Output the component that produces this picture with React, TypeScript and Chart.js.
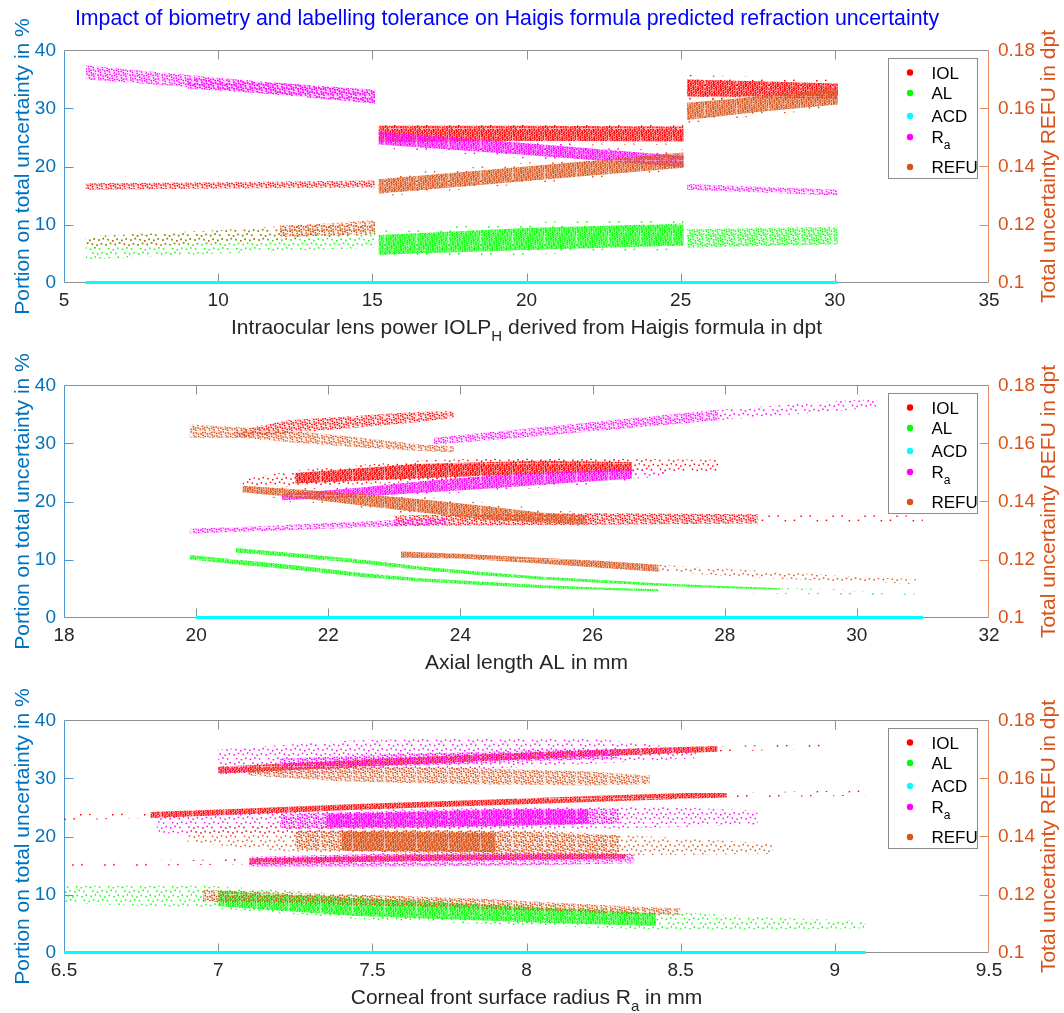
import React, { useEffect, useRef } from 'react';
import { Chart, registerables } from 'chart.js';

Chart.register(...registerables);

const FONT = "'Liberation Sans', Arial, Helvetica, sans-serif";

// ---------- texts ----------
const MAIN_TITLE = 'Impact of biometry and labelling tolerance on Haigis formula predicted refraction uncertainty';
const Y_LEFT_TITLE = 'Portion on total uncertainty in %';
const Y_RIGHT_TITLE = 'Total uncertainty REFU in dpt';
const X_TITLES = [
  'Intraocular lens power IOLP_H derived from Haigis formula in dpt',
  'Axial length AL in mm',
  'Corneal front surface radius R_a in mm',
];
const SERIES_LABELS = ['IOL', 'AL', 'ACD', 'R_a', 'REFU'];
const SERIES_COLORS = ['#ff0000', '#00ff00', '#00ffff', '#ff00ff', '#d95319'];

// ---------- tick labels ----------
const X1_TICKS = [5, 10, 15, 20, 25, 30, 35];
const X2_TICKS = [18, 20, 22, 24, 26, 28, 30, 32];
const X3_TICKS = [6.5, 7, 7.5, 8, 8.5, 9, 9.5];
const YL_TICKS = [0, 10, 20, 30, 40];
const YR_TICKS = [0.1, 0.12, 0.14, 0.16, 0.18];

// ---------- panel 1 : point clouds as [x, low, high] ----------
const P1_IOL_A = [[5.7, 16.0, 17.1], [10, 16.2, 17.3], [15.1, 16.4, 17.6]];
const P1_IOL_B = [[15.2, 24.2, 27.0], [20, 24.4, 27.0], [25.1, 24.3, 26.9]];
const P1_IOL_B_H = [[15.2, 23.6, 27.6], [20, 23.8, 27.6], [25.1, 23.8, 27.4]];
const P1_IOL_C = [[25.2, 32.0, 35.0], [27.5, 31.9, 34.7], [30.1, 31.7, 34.3]];
const P1_IOL_C_H = [[25.2, 31.4, 35.8], [30.1, 31.2, 35.0]];
const P1_AL_A = [[5.7, 4.0, 7.8], [10, 5.0, 9.0], [15.1, 6.0, 10.0]];
const P1_AL_B = [[15.2, 4.8, 8.2], [20, 5.6, 9.4], [25.1, 6.4, 10.2]];
const P1_AL_B_H = [[15.2, 4.2, 9.0], [20, 4.8, 10.4], [25.1, 5.6, 11.0]];
const P1_AL_C = [[25.2, 6.0, 9.2], [30.1, 6.6, 9.6]];
const P1_RA_A = [[5.7, 35.0, 37.4], [10, 33.3, 35.3], [15.1, 30.8, 33.0]];
const P1_RA_A2 = [[9, 33.4, 35.2], [12, 32.4, 34.4], [15.1, 30.9, 33.2]];
const P1_RA_B = [[15.2, 23.8, 26.0], [20, 22.0, 24.0], [25.1, 19.9, 21.8]];
const P1_RA_B_H = [[15.2, 23.2, 26.6], [25.1, 19.4, 22.4]];
const P1_RA_C = [[25.2, 16.0, 17.0], [30.1, 15.0, 16.0]];
const P1_REFU_A = [[5.7, 0.1118, 0.116], [10, 0.1136, 0.118], [15.1, 0.1166, 0.1216]];
const P1_REFU_A2 = [[12, 0.1156, 0.1196], [15.1, 0.1168, 0.1212]];
const P1_REFU_B = [[15.2, 0.1306, 0.1356], [20, 0.135, 0.14], [25.1, 0.1396, 0.1448]];
const P1_REFU_B_H = [[15.2, 0.1296, 0.137], [25.1, 0.1386, 0.146]];
const P1_REFU_C = [[25.2, 0.156, 0.162], [27.5, 0.1588, 0.164], [30.1, 0.1614, 0.1668]];
const P1_REFU_C_H = [[25.2, 0.1548, 0.1632], [30.1, 0.1602, 0.1682]];
const ACD1 = [5.7, 30.1];

// ---------- panel 2 ----------
const P2_IOL_A = [[20.6, 31.0, 32.2], [21.4, 31.8, 34.0], [22.5, 32.8, 34.8], [23.3, 33.6, 35.4], [23.9, 34.4, 35.6]];
const P2_IOL_B = [[20.7, 22.6, 23.8], [21.5, 22.6, 25.4], [23.4, 23.4, 27.1], [25.2, 24.2, 27.6], [26.6, 24.8, 27.3], [27.9, 25.2, 27.2]];
const P2_IOL_B2 = [[21.5, 23.1, 24.9], [23.4, 24.0, 26.5], [25.2, 24.8, 27.0], [26.6, 25.2, 26.8]];
const P2_IOL_C = [[23.0, 15.8, 17.6], [26, 16.0, 18.0], [28.5, 16.2, 17.8]];
const P2_IOL_C2 = [[28.5, 16.2, 17.8], [31, 16.4, 17.6]];
const P2_AL_L = [[19.9, 10.0, 10.8], [20.6, 9.2, 10.0], [21.6, 8.1, 8.9], [22.5, 7.0, 7.7], [23.4, 6.2, 6.8], [24.3, 5.6, 6.2], [25.2, 5.1, 5.6], [26.1, 4.8, 5.2], [27.0, 4.5, 4.9]];
const P2_AL_L2 = [[27.0, 4.5, 4.9], [28.5, 4.2, 4.6], [30.9, 3.7, 4.1]];
const P2_AL_U = [[20.6, 11.2, 12.0], [21.5, 10.4, 11.1], [22.5, 9.3, 10.0], [23.4, 8.2, 8.8], [24.3, 7.3, 7.9], [25.2, 6.6, 7.1], [26.1, 6.0, 6.5], [27.0, 5.5, 5.9], [27.9, 5.1, 5.5], [28.8, 4.8, 5.1]];
const P2_AL_U2 = [[28.8, 4.8, 5.1], [30.1, 4.4, 4.8]];
const P2_RA_L = [[19.9, 14.5, 15.3], [21.0, 14.9, 15.8], [22.0, 15.3, 16.3], [23.0, 15.7, 16.8], [23.8, 16.1, 17.1]];
const P2_RA_M = [[21.3, 20.2, 21.3], [22.5, 20.8, 22.4], [23.4, 21.5, 23.5], [24.5, 22.3, 24.5], [25.5, 23.1, 25.1], [26.6, 23.9, 25.6]];
const P2_RA_M_H = [[21.3, 19.8, 21.8], [24.5, 21.8, 25.0], [26.6, 23.4, 26.0]];
const P2_RA_M2 = [[26.6, 23.9, 25.6], [27.1, 24.3, 25.3]];
const P2_RA_U = [[23.6, 29.8, 31.0], [24.5, 30.6, 32.0], [26.1, 32.2, 33.8], [27.9, 34.0, 35.8]];
const P2_RA_U2 = [[27.9, 34.0, 35.8], [29.7, 35.6, 37.3], [30.3, 36.2, 37.6]];
const P2_REFU_T = [[19.9, 0.162, 0.1665], [20.7, 0.162, 0.1655], [21.5, 0.1602, 0.1642], [22.5, 0.1586, 0.162], [23.4, 0.1574, 0.1596], [23.9, 0.157, 0.159]];
const P2_REFU_M = [[20.7, 0.1432, 0.1454], [21.5, 0.1414, 0.1442], [22.5, 0.1386, 0.1426], [23.4, 0.1362, 0.1408], [24.3, 0.134, 0.1386], [25.2, 0.1328, 0.1362], [25.9, 0.1322, 0.1352]];
const P2_REFU_M_H = [[20.7, 0.1424, 0.1462], [23.4, 0.1352, 0.1418], [25.9, 0.1314, 0.136]];
const P2_REFU_L = [[23.1, 0.1206, 0.1228], [24.0, 0.1204, 0.122], [25.2, 0.1186, 0.1206], [26.1, 0.1172, 0.1196], [27.0, 0.1158, 0.1182]];
const P2_REFU_L2 = [[27.0, 0.1158, 0.1182], [27.9, 0.1146, 0.117], [28.8, 0.1134, 0.1158], [29.7, 0.1126, 0.1144], [30.9, 0.1116, 0.1132]];
const ACD2 = [20.0, 31.0];

// ---------- panel 3 ----------
const P3_IOL_U = [[7.0, 30.8, 32.0], [7.26, 31.5, 32.7], [7.65, 32.5, 33.7], [8.03, 33.4, 34.5], [8.42, 34.2, 35.3], [8.62, 34.6, 35.6]];
const P3_IOL_U2 = [[8.62, 34.6, 35.6], [9.0, 35.2, 36.0]];
const P3_IOL_M = [[6.78, 23.2, 24.2], [7.07, 23.8, 24.8], [7.45, 24.6, 25.6], [7.84, 25.3, 26.3], [8.23, 26.0, 27.0], [8.52, 26.5, 27.5], [8.65, 26.7, 27.5]];
const P3_IOL_M2 = [[6.5, 22.8, 23.8], [6.78, 23.2, 24.2]];
const P3_IOL_M3 = [[8.65, 26.7, 27.5], [9.1, 27.0, 28.0]];
const P3_IOL_L = [[7.1, 15.2, 16.2], [7.65, 15.8, 16.8], [8.32, 16.2, 17.0]];
const P3_IOL_L2 = [[6.52, 14.7, 15.4], [7.1, 15.2, 16.2]];
const P3_AL = [[6.5, 8.5, 11.5], [6.97, 7.7, 11.5], [7.45, 5.8, 10.0], [8.03, 4.6, 8.3], [8.42, 4.0, 7.2], [8.8, 4.0, 6.0], [9.1, 4.2, 5.5]];
const P3_AL2 = [[7.0, 8.0, 10.6], [7.45, 6.3, 9.4], [8.03, 5.2, 7.8], [8.42, 4.6, 6.8]];
const P3_RA_U = [[7.0, 30.5, 35.0], [7.4, 31.0, 36.5], [7.8, 31.5, 37.0], [8.2, 32.5, 37.0], [8.55, 33.5, 35.0]];
const P3_RA_U2 = [[7.2, 31.4, 33.4], [7.6, 32.1, 34.2], [8.0, 32.9, 34.8], [8.3, 33.5, 35.0]];
const P3_RA_M = [[6.8, 20.5, 23.5], [7.1, 20.5, 24.0], [7.5, 20.8, 24.6], [8.0, 21.0, 25.0], [8.4, 21.5, 25.2], [8.75, 22.0, 24.5]];
const P3_RA_M2 = [[7.2, 21.3, 23.8], [7.6, 21.4, 24.5], [8.0, 21.8, 24.8], [8.3, 22.2, 24.8]];
const P3_RA_M3 = [[7.35, 21.6, 23.8], [7.9, 21.8, 24.6], [8.2, 22.2, 24.6]];
const P3_RA_L = [[7.1, 14.8, 16.5], [7.5, 14.8, 17.0], [8.0, 15.0, 17.2], [8.35, 15.4, 17.0]];
const P3_REFU_U = [[7.1, 0.161, 0.1636], [7.4, 0.159, 0.164], [7.8, 0.158, 0.1636], [8.2, 0.1576, 0.1624], [8.4, 0.158, 0.161]];
const P3_REFU_M = [[6.9, 0.138, 0.143], [7.2, 0.135, 0.144], [7.6, 0.1336, 0.1436], [8.0, 0.1332, 0.1424], [8.4, 0.1336, 0.14], [8.8, 0.134, 0.1376]];
const P3_REFU_M2 = [[7.25, 0.1356, 0.142], [7.6, 0.1344, 0.1424], [8.0, 0.134, 0.1416], [8.3, 0.1338, 0.1404]];
const P3_REFU_M3 = [[7.4, 0.1352, 0.1416], [7.9, 0.1346, 0.1412]];
const P3_REFU_L = [[6.95, 0.1176, 0.1216], [7.26, 0.117, 0.1206], [7.84, 0.1152, 0.1186], [8.32, 0.1134, 0.116], [8.5, 0.113, 0.1152]];
const ACD3 = [6.5, 9.1];

// series index: 0 IOL, 1 AL, 2 ACD, 3 Ra, 4 REFU ; lv = dot density of cloud
const PANELS = [
  {
    top: 0, h: 350, xMin: 5, xMax: 35, xTicks: X1_TICKS, xTitle: X_TITLES[0], acd: ACD1, title: true,
    bands: [
      { s: 0, d: P1_IOL_A, lv: 2 }, { s: 0, d: P1_IOL_B_H, lv: 0 }, { s: 0, d: P1_IOL_B, lv: 3 },
      { s: 0, d: P1_IOL_C_H, lv: 0 }, { s: 0, d: P1_IOL_C, lv: 3 },
      { s: 1, d: P1_AL_A, lv: 1 }, { s: 1, d: P1_AL_B_H, lv: 0 }, { s: 1, d: P1_AL_B, lv: 3 }, { s: 1, d: P1_AL_C, lv: 2 },
      { s: 3, d: P1_RA_A, lv: 2 }, { s: 3, d: P1_RA_A2, lv: 2 }, { s: 3, d: P1_RA_B_H, lv: 0 }, { s: 3, d: P1_RA_B, lv: 3 },
      { s: 3, d: P1_RA_C, lv: 2 },
      { s: 4, d: P1_REFU_A, lv: 1 }, { s: 4, d: P1_REFU_A2, lv: 2 }, { s: 4, d: P1_REFU_B_H, lv: 0 }, { s: 4, d: P1_REFU_B, lv: 3 },
      { s: 4, d: P1_REFU_C_H, lv: 0 }, { s: 4, d: P1_REFU_C, lv: 3 },
    ],
  },
  {
    top: 335, h: 350, xMin: 18, xMax: 32, xTicks: X2_TICKS, xTitle: X_TITLES[1], acd: ACD2, title: false,
    bands: [
      { s: 0, d: P2_IOL_A, lv: 2 }, { s: 0, d: P2_IOL_B, lv: 1 }, { s: 0, d: P2_IOL_B2, lv: 3 },
      { s: 0, d: P2_IOL_C, lv: 2 }, { s: 0, d: P2_IOL_C2, lv: 0 },
      { s: 1, d: P2_AL_L, lv: 3 }, { s: 1, d: P2_AL_L2, lv: 0 }, { s: 1, d: P2_AL_U, lv: 3 }, { s: 1, d: P2_AL_U2, lv: 1 },
      { s: 3, d: P2_RA_L, lv: 2 }, { s: 3, d: P2_RA_M_H, lv: 0 }, { s: 3, d: P2_RA_M, lv: 3 }, { s: 3, d: P2_RA_M2, lv: 1 },
      { s: 3, d: P2_RA_U, lv: 2 }, { s: 3, d: P2_RA_U2, lv: 1 },
      { s: 4, d: P2_REFU_T, lv: 2 }, { s: 4, d: P2_REFU_M_H, lv: 0 }, { s: 4, d: P2_REFU_M, lv: 3 },
      { s: 4, d: P2_REFU_L, lv: 3 }, { s: 4, d: P2_REFU_L2, lv: 1 },
    ],
  },
  {
    top: 670, h: 343, xMin: 6.5, xMax: 9.5, xTicks: X3_TICKS, xTitle: X_TITLES[2], acd: ACD3, title: false,
    bands: [
      { s: 0, d: P3_IOL_U, lv: 3 }, { s: 0, d: P3_IOL_U2, lv: 0 },
      { s: 0, d: P3_IOL_M, lv: 3 }, { s: 0, d: P3_IOL_M2, lv: 0 }, { s: 0, d: P3_IOL_M3, lv: 0 },
      { s: 0, d: P3_IOL_L, lv: 3 }, { s: 0, d: P3_IOL_L2, lv: 0 },
      { s: 1, d: P3_AL, lv: 1 }, { s: 1, d: P3_AL2, lv: 3 },
      { s: 3, d: P3_RA_U, lv: 1 }, { s: 3, d: P3_RA_U2, lv: 2 },
      { s: 3, d: P3_RA_M, lv: 1 }, { s: 3, d: P3_RA_M2, lv: 2 }, { s: 3, d: P3_RA_M3, lv: 3 }, { s: 3, d: P3_RA_L, lv: 2 },
      { s: 4, d: P3_REFU_U, lv: 2 }, { s: 4, d: P3_REFU_M, lv: 1 }, { s: 4, d: P3_REFU_M2, lv: 2 }, { s: 4, d: P3_REFU_M3, lv: 3 },
      { s: 4, d: P3_REFU_L, lv: 2 },
    ],
  },
];

// ---------- styling helpers ----------
const ORDERS = [50, 40, 30, 20, 10];
const LEVELS = [
  { base: 0, n: 14 },
  { base: 0, n: 45 },
  { base: 0.1, n: 140 },
  { base: 0.32, n: 260 },
];

function makePattern(ctx: CanvasRenderingContext2D, color: string, lv: number) {
  const S = 32;
  const c = document.createElement('canvas');
  c.width = S;
  c.height = S;
  const g = c.getContext('2d')!;
  const cfg = LEVELS[lv];
  if (cfg.base) {
    g.globalAlpha = cfg.base;
    g.fillStyle = color;
    g.fillRect(0, 0, S, S);
    g.globalAlpha = 1;
  }
  g.fillStyle = color;
  for (let i = 0; i < cfg.n; i++) {
    const px = ((0.5 + i * 0.7548776662) % 1) * S;
    const py = ((0.5 + i * 0.569840291) % 1) * S;
    g.fillRect(px, py, 1.5, 1.5);
  }
  return ctx.createPattern(c, 'repeat');
}

function parseTex(s: string): [string, boolean][] {
  const parts: [string, boolean][] = [];
  let buf = '';
  for (let i = 0; i < s.length; i++) {
    if (s[i] === '_' && i + 1 < s.length) {
      if (buf) parts.push([buf, false]);
      buf = '';
      parts.push([s[i + 1], true]);
      i++;
    } else buf += s[i];
  }
  if (buf) parts.push([buf, false]);
  return parts;
}

function drawRich(ctx: CanvasRenderingContext2D, text: string, x: number, baseline: number, size: number, color: string, align: 'left' | 'center') {
  const parts = parseTex(text);
  const sub = Math.round(size * 0.72);
  const widths = parts.map(([t, isSub]) => {
    ctx.font = `${isSub ? sub : size}px ${FONT}`;
    return ctx.measureText(t).width;
  });
  const total = widths.reduce((a, b) => a + b, 0);
  let cx = align === 'center' ? x - total / 2 : x;
  ctx.fillStyle = color;
  ctx.textAlign = 'left';
  ctx.textBaseline = 'alphabetic';
  parts.forEach(([t, isSub], i) => {
    ctx.font = `${isSub ? sub : size}px ${FONT}`;
    ctx.fillText(t, cx, baseline + (isSub ? size * 0.33 : 0));
    cx += widths[i];
  });
}

function makeDecor(panel: any) {
  return {
    id: 'decor',
    beforeDatasetsDraw(chart: any) {
      const { ctx, chartArea: a, scales } = chart;
      const L = Math.round(a.left) + 0.5;
      const R = Math.round(a.right) - 0.5;
      const T = Math.round(a.top) + 0.5;
      const B = Math.round(a.bottom) - 0.5;
      const TL = 9;
      ctx.save();
      ctx.lineWidth = 1;
      const seg = (x1: number, y1: number, x2: number, y2: number) => {
        ctx.beginPath();
        ctx.moveTo(x1, y1);
        ctx.lineTo(x2, y2);
        ctx.stroke();
      };
      ctx.strokeStyle = '#8f8f8f';
      seg(L, T, R, T);
      seg(L, B, R, B);
      for (const v of panel.xTicks) {
        const px = scales.x.getPixelForValue(v);
        if (px <= a.left + 1 || px >= a.right - 1) continue;
        const xx = Math.round(px) + 0.5;
        seg(xx, B, xx, B - TL);
        seg(xx, T, xx, T + TL);
      }
      ctx.strokeStyle = '#4a97d5';
      seg(L, T, L, B);
      for (const v of YL_TICKS) {
        const py = scales.y.getPixelForValue(v);
        if (py <= a.top + 1 || py >= a.bottom - 1) continue;
        const yy = Math.round(py) + 0.5;
        seg(L, yy, L + TL, yy);
      }
      ctx.strokeStyle = '#e58a63';
      seg(R, T, R, B);
      for (const v of YR_TICKS) {
        const py = scales.y2.getPixelForValue(v);
        if (py <= a.top + 1 || py >= a.bottom - 1) continue;
        const yy = Math.round(py) + 0.5;
        seg(R, yy, R - TL, yy);
      }
      ctx.restore();
    },
    afterDraw(chart: any) {
      const { ctx, chartArea: a } = chart;
      const midY = (a.top + a.bottom) / 2;
      ctx.save();
      drawRich(ctx, panel.xTitle, (a.left + a.right) / 2, a.bottom + 51.5, 21, '#262626', 'center');
      ctx.save();
      ctx.translate(29, midY);
      ctx.rotate(-Math.PI / 2);
      ctx.font = `21px ${FONT}`;
      ctx.fillStyle = '#0072bd';
      ctx.textAlign = 'center';
      ctx.textBaseline = 'alphabetic';
      ctx.fillText(Y_LEFT_TITLE, 0, 0);
      ctx.restore();
      ctx.save();
      ctx.translate(1055, midY);
      ctx.rotate(-Math.PI / 2);
      ctx.font = `21px ${FONT}`;
      ctx.fillStyle = '#d95319';
      ctx.textAlign = 'center';
      ctx.textBaseline = 'alphabetic';
      ctx.fillText(Y_RIGHT_TITLE, 0, 0);
      ctx.restore();
      if (panel.title) {
        ctx.font = `21.3px ${FONT}`;
        ctx.fillStyle = '#0000ff';
        ctx.textAlign = 'center';
        ctx.textBaseline = 'alphabetic';
        ctx.fillText(MAIN_TITLE, 507, 25);
      }
      const bx = Math.round(a.right - 101) + 0.5;
      const by = Math.round(a.top + 8) + 0.5;
      const bw = 89;
      const bh = 120;
      ctx.fillStyle = '#ffffff';
      ctx.fillRect(bx, by, bw, bh);
      ctx.strokeStyle = '#8c8c8c';
      ctx.lineWidth = 1;
      ctx.strokeRect(bx, by, bw, bh);
      const rows = [14, 34.5, 57.5, 78.5, 108.5];
      SERIES_LABELS.forEach((lab, i) => {
        const cy = by + rows[i];
        ctx.fillStyle = SERIES_COLORS[i];
        ctx.beginPath();
        ctx.arc(bx + 21.5, cy, 3.2, 0, Math.PI * 2);
        ctx.fill();
        drawRich(ctx, lab, bx + 43, cy + 6.1, 17, '#000000', 'left');
      });
      ctx.restore();
    },
  };
}

function Panel({ panel }: { panel: any }) {
  const ref = useRef<HTMLCanvasElement>(null);
  useEffect(() => {
    const canvas = ref.current!;
    const ctx = canvas.getContext('2d')!;
    const datasets: any[] = [];
    for (const b of panel.bands) {
      const axis = b.s === 4 ? 'y2' : 'y';
      const pat = makePattern(ctx, SERIES_COLORS[b.s], b.lv);
      datasets.push({
        data: b.d.map((p: number[]) => ({ x: p[0], y: p[2] })),
        yAxisID: axis,
        borderWidth: 0,
        borderColor: 'rgba(0,0,0,0)',
        pointRadius: 0,
        pointHoverRadius: 0,
        fill: '+1',
        backgroundColor: pat,
        order: ORDERS[b.s],
      });
      datasets.push({
        data: b.d.map((p: number[]) => ({ x: p[0], y: p[1] })),
        yAxisID: axis,
        borderWidth: 0,
        borderColor: 'rgba(0,0,0,0)',
        pointRadius: 0,
        pointHoverRadius: 0,
        fill: false,
        order: ORDERS[b.s],
      });
    }
    datasets.push({
      data: [{ x: panel.acd[0], y: 0 }, { x: panel.acd[1], y: 0 }],
      yAxisID: 'y',
      borderColor: SERIES_COLORS[2],
      borderWidth: 3,
      pointRadius: 0,
      fill: false,
      order: ORDERS[2],
      clip: 6,
    });
    const tickFont = { family: FONT, size: 19 };
    const chart = new Chart(canvas, {
      type: 'line',
      data: { datasets },
      options: {
        responsive: false,
        animation: false,
        events: [],
        layout: { padding: { top: 50.4, left: 0, right: 0, bottom: 0 } },
        plugins: { legend: { display: false }, tooltip: { enabled: false }, title: { display: false } },
        scales: {
          x: {
            type: 'linear',
            position: 'bottom',
            min: panel.xMin,
            max: panel.xMax,
            grid: { display: false, drawTicks: false },
            border: { display: false },
            afterBuildTicks: (s: any) => { s.ticks = panel.xTicks.map((v: number) => ({ value: v })); },
            afterFit: (s: any) => { s.height = panel.h - 282.6; },
            ticks: { color: '#262626', font: tickFont, padding: 7, maxRotation: 0, minRotation: 0, autoSkip: false, callback: (v: any) => String(v) },
          },
          y: {
            type: 'linear',
            position: 'left',
            min: 0,
            max: 40,
            grid: { display: false, drawTicks: false },
            border: { display: false },
            afterBuildTicks: (s: any) => { s.ticks = YL_TICKS.map((v) => ({ value: v })); },
            afterFit: (s: any) => { s.width = 64; },
            ticks: { color: '#0072bd', font: tickFont, padding: 8, autoSkip: false, callback: (v: any) => String(v) },
          },
          y2: {
            type: 'linear',
            position: 'right',
            min: 0.1,
            max: 0.18,
            grid: { display: false, drawTicks: false },
            border: { display: false },
            afterBuildTicks: (s: any) => { s.ticks = YR_TICKS.map((v) => ({ value: v })); },
            afterFit: (s: any) => { s.width = 75; },
            ticks: { color: '#d95319', font: tickFont, padding: 9, autoSkip: false, callback: (v: any) => String(v) },
          },
        },
      } as any,
      plugins: [makeDecor(panel)],
    });
    return () => chart.destroy();
  }, [panel]);
  return (
    <canvas
      ref={ref}
      width={1064}
      height={panel.h}
      style={{ position: 'absolute', left: 0, top: panel.top, width: 1064, height: panel.h }}
    />
  );
}

export default function App() {
  useEffect(() => {
    document.body.style.margin = '0';
    document.body.style.background = '#ffffff';
  }, []);
  return (
    <div style={{ position: 'relative', width: 1064, height: 1013, background: '#ffffff', overflow: 'hidden' }}>
      {PANELS.map((p, i) => (
        <Panel key={i} panel={p} />
      ))}
    </div>
  );
}
